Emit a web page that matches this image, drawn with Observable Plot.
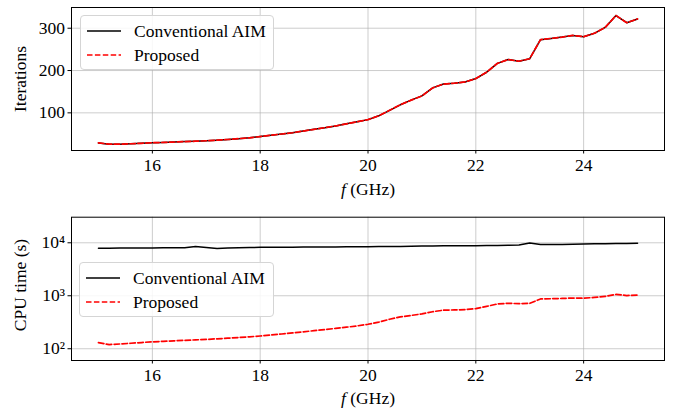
<!DOCTYPE html>
<html>
<head>
<meta charset="utf-8">
<script src="https://cdn.jsdelivr.net/npm/d3@7"></script>
<script src="https://cdn.jsdelivr.net/npm/@observablehq/plot@0.6"></script>
<style>
  body { margin: 0; background: #fff; }
  #wrap { position: relative; width: 674px; height: 411px; font-family: "Liberation Serif", serif; color: #000; }
  .pl { position: absolute; left: 0; }
  .lab { position: absolute; font-size: 17.5px; white-space: nowrap; transform: translate(-50%, -50%); }
  .ylab { transform: translate(-50%, -50%) rotate(-90deg); }
  .legend { position: absolute; border: 1px solid #d5d5d5; border-radius: 4px; background: rgba(255,255,255,0.85); font-size: 17.5px; }
  .legend .row { position: absolute; left: 0; height: 20px; }
  .legend svg { position: absolute; left: 5px; top: 4px; }
  .legend span { position: absolute; left: 53px; top: 0; line-height: 20px; white-space: nowrap; }
</style>
</head>
<body>
<div id="wrap"></div>
<script>
// ---- data ----
const freqs = [15.0,15.2,15.4,15.6,15.8,16.0,16.2,16.4,16.6,16.8,17.0,17.2,17.4,17.6,17.8,18.0,18.2,18.4,18.6,18.8,19.0,19.2,19.4,19.6,19.8,20.0,20.2,20.4,20.6,20.8,21.0,21.2,21.4,21.6,21.8,22.0,22.2,22.4,22.6,22.8,23.0,23.2,23.4,23.6,23.8,24.0,24.2,24.4,24.6,24.8,25.0];
const itersConventional = [29,26,26,27,28,29.5,30,31,32,33,34,35.5,37,39,41,44,47,50,53,57,61,65,69,74,79,84,93,106,119,130,140,159,168,170,173,181,196,217,226,222,228,273,276,279,283,280,288,302,330,313,322];
const itersProposed = [29,26,26,27,28,29.5,30,31,32,33,34,35.5,37,39,41,44,47,50,53,57,61,65,69,74,79,84,93,106,119,130,140,159,168,170,173,181,196,217,226,222,228,273,276,279,283,280,288,302,330,313,322];
const cpuConventional = [7900,7900,7950,7950,8000,8000,8050,8050,8100,8500,8150,7800,7950,8050,8150,8200,8200,8250,8250,8300,8300,8350,8350,8400,8400,8450,8500,8550,8550,8600,8650,8700,8750,8750,8800,8800,8850,8900,9000,9100,9900,9300,9250,9300,9400,9500,9550,9600,9650,9700,9800];
const cpuProposed = [130,120,123,127,131,135,138,141,144,147,150,154,158,163,168,174,182,190,199,209,219,230,242,255,270,290,318,360,400,425,455,500,535,540,548,570,630,700,720,710,720,870,880,890,905,900,930,970,1060,1010,1030];
const xTicks = [16,18,20,22,24];
const iterTicks = [100,200,300];
const cpuTicks = [100,1000,10000];
const cpuTickLabels = ["10²","10³","10⁴"];
const seriesNames = ["Conventional AIM","Proposed"];

const topRows = freqs.flatMap((f,i)=>[{f, v: itersConventional[i], s: seriesNames[0]},{f, v: itersProposed[i], s: seriesNames[1]}]);
const botRows = freqs.flatMap((f,i)=>[{f, v: cpuConventional[i], s: seriesNames[0]},{f, v: cpuProposed[i], s: seriesNames[1]}]);

const FONT = "Liberation Serif, serif";
const FS = 17.5;
const common = {
  width: 674, marginLeft: 71, marginRight: 10,
  style: {fontFamily: FONT, fontSize: FS + "px", color: "#000", background: "transparent"}
};
const gridStyle = {stroke: "#b0b0b0", strokeOpacity: 0.7, strokeWidth: 0.9};

function lineMarks(rows) {
  return [
    Plot.lineY(rows.filter(d=>d.s===seriesNames[0]), {x:"f", y:"v", stroke:"#000", strokeWidth:1.5}),
    Plot.lineY(rows.filter(d=>d.s===seriesNames[1]), {x:"f", y:"v", stroke:"#ff0000", strokeWidth:1.7, strokeDasharray:"5.5,2.4"})
  ];
}

const topPlot = Plot.plot({
  ...common, height: 205, marginTop: 7, marginBottom: 55,
  x: {domain: [14.5, 25.5]},
  y: {domain: [11, 349]},
  marks: [
    Plot.gridX(xTicks, gridStyle),
    Plot.gridY(iterTicks, gridStyle),
    ...lineMarks(topRows),
    Plot.frame({stroke:"#000", strokeWidth:1}),
    Plot.axisX(xTicks, {label:null, tickSize:3.5, tickPadding:5, fontSize:FS}),
    Plot.axisY(iterTicks, {label:null, tickSize:3.5, tickPadding:3, fontSize:FS})
  ]
});

const botPlot = Plot.plot({
  ...common, height: 206, marginTop: 11.7, marginBottom: 51,
  x: {domain: [14.5, 25.5]},
  y: {type: "log", domain: [60, 30400]},
  marks: [
    Plot.gridX(xTicks, gridStyle),
    Plot.gridY(cpuTicks, gridStyle),
    ...lineMarks(botRows),
    Plot.frame({stroke:"#000", strokeWidth:1}),
    Plot.axisX(xTicks, {label:null, tickSize:3.5, tickPadding:5, fontSize:FS}),
    Plot.axisY(cpuTicks, {label:null, tickSize:3.5, tickPadding:3, fontSize:FS, tickFormat: d => cpuTickLabels[cpuTicks.indexOf(d)]})
  ]
});

const wrap = document.getElementById("wrap");
topPlot.classList.add("pl"); topPlot.style.top = "0px";
botPlot.classList.add("pl"); botPlot.style.top = "205px";
wrap.appendChild(topPlot); wrap.appendChild(botPlot);

function addLabel(html, x, y, cls) {
  const d = document.createElement("div");
  d.className = "lab" + (cls ? " " + cls : "");
  d.innerHTML = html; d.style.left = x + "px"; d.style.top = y + "px";
  wrap.appendChild(d);
}
addLabel("<i>f</i> (GHz)", 368, 189);
addLabel("<i>f</i> (GHz)", 368, 398);
addLabel("Iterations", 19.5, 78.5, "ylab");
addLabel("CPU time (s)", 19.5, 285, "ylab");

function addLegend(x, y, w, h) {
  const lg = document.createElement("div");
  lg.className = "legend";
  lg.style.left = x + "px"; lg.style.top = y + "px"; lg.style.width = w + "px"; lg.style.height = h + "px";
  const styles = [{stroke:"#000", dash:""},{stroke:"#ff0000", dash:"5.5,2.4"}];
  seriesNames.forEach((name, i) => {
    const row = document.createElement("div");
    row.className = "row"; row.style.top = (5 + i*24) + "px"; row.style.width = w + "px";
    row.innerHTML = `<svg width="40" height="12"><line x1="1" y1="6" x2="35" y2="6" stroke="${styles[i].stroke}" stroke-width="1.5" stroke-dasharray="${styles[i].dash}"/></svg><span>${name}</span>`;
    lg.appendChild(row);
  });
  wrap.appendChild(lg);
}
addLegend(80, 15, 192, 53);
addLegend(79, 262, 193, 53);
</script>
</body>
</html>
